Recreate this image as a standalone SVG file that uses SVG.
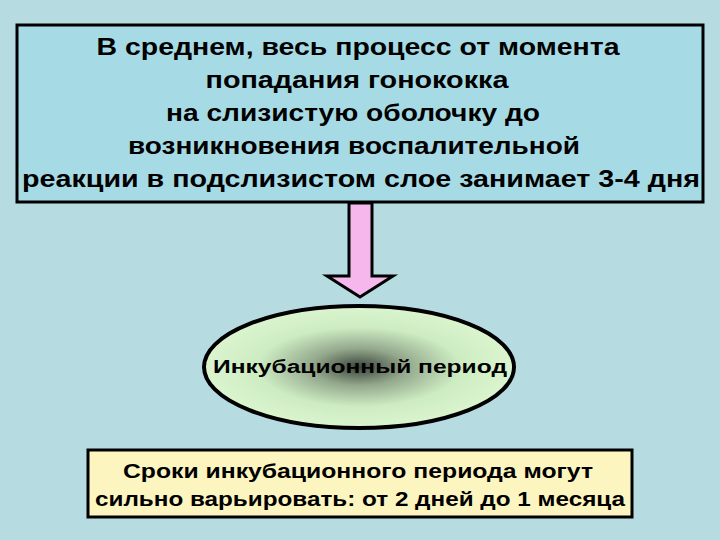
<svg xmlns="http://www.w3.org/2000/svg" width="720" height="540" viewBox="0 0 720 540">
<style>
.t{font-family:"Liberation Sans",Arial,sans-serif;font-weight:bold;fill:#000;text-anchor:middle}
</style>
<defs>
<radialGradient id="g" cx="0.5" cy="0.5" r="0.5">
<stop offset="0" stop-color="#3a453a"/>
<stop offset="0.3" stop-color="#93a78c"/>
<stop offset="0.65" stop-color="#cdecc2"/>
<stop offset="1" stop-color="#dbf5cf"/>
</radialGradient>
</defs>
<rect width="720" height="540" fill="#b6dce2"/>
<g id="top">
<rect x="17" y="25" width="686" height="177" fill="#a6dbe6" stroke="#000" stroke-width="3"/>
<text class="t" font-size="23"><tspan x="358" y="55" textLength="523" lengthAdjust="spacingAndGlyphs">В среднем, весь процесс от момента</tspan><tspan x="357" y="88" textLength="303" lengthAdjust="spacingAndGlyphs">попадания гонококка</tspan><tspan x="353" y="121" textLength="374" lengthAdjust="spacingAndGlyphs">на слизистую оболочку до</tspan><tspan x="354" y="154" textLength="452" lengthAdjust="spacingAndGlyphs">возникновения воспалительной</tspan><tspan x="361" y="187" textLength="678" lengthAdjust="spacingAndGlyphs">реакции в подслизистом слое занимает 3-4 дня</tspan></text>
</g>
<g id="connectors">
<path d="M349 203 L372 203 L372 276 L393 276 L360 297 L327 276 L349 276 Z" fill="#f6b8ec" stroke="#000" stroke-width="3" stroke-linejoin="miter"/>
</g>
<g id="ellipse">
<ellipse cx="359" cy="367" rx="155" ry="61" fill="url(#g)" stroke="#000" stroke-width="4"/>
<text class="t" x="360" y="373" font-size="18" textLength="294" lengthAdjust="spacingAndGlyphs">Инкубационный период</text>
</g>
<g id="bottom">
<rect x="88" y="450" width="544" height="67" fill="#fdf5c0" stroke="#000" stroke-width="3"/>
<text class="t" font-size="20"><tspan x="358" y="478" textLength="470" lengthAdjust="spacingAndGlyphs">Сроки инкубационного периода могут</tspan><tspan x="360" y="506" textLength="530" lengthAdjust="spacingAndGlyphs">сильно варьировать: от 2 дней до 1 месяца</tspan></text>
</g>
</svg>
